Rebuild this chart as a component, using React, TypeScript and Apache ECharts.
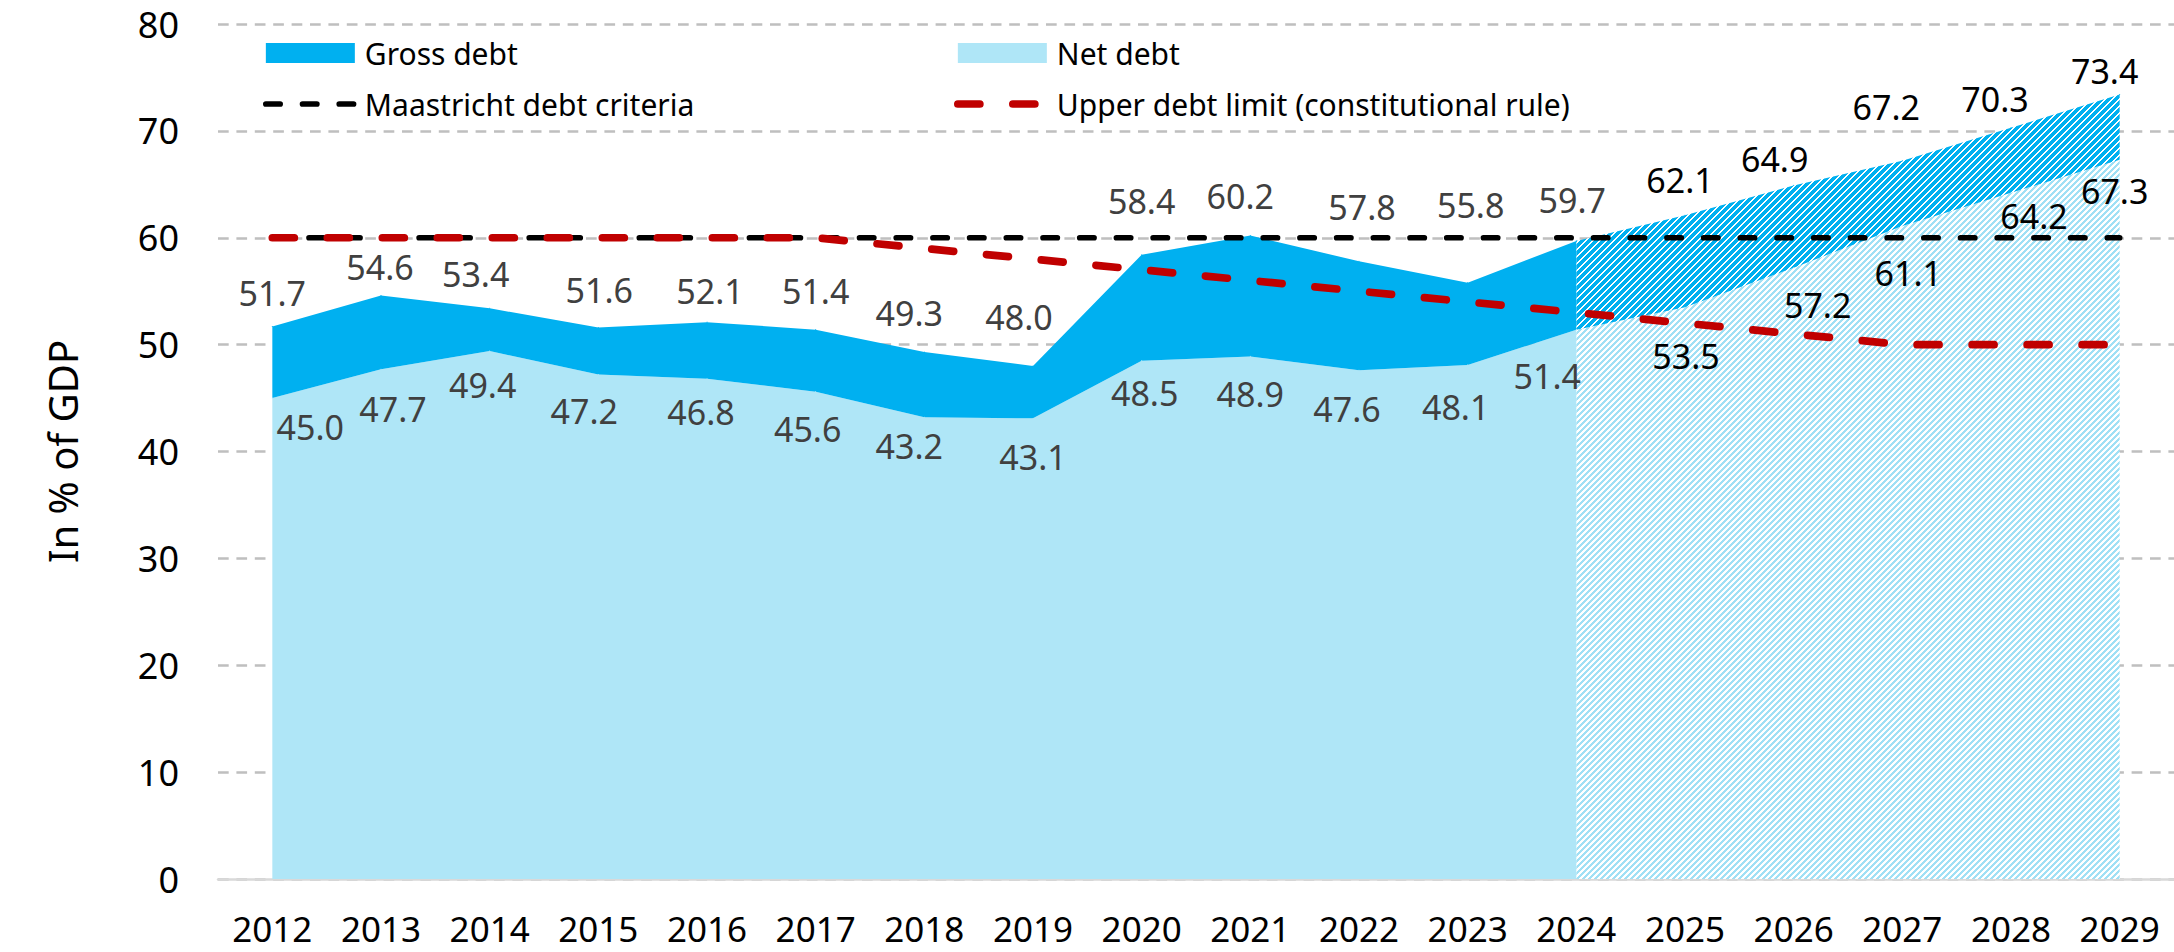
import React, { useEffect, useRef } from 'react';
import * as echarts from 'echarts';

// ---------- data ----------
const years = ['2012', '2013', '2014', '2015', '2016', '2017', '2018', '2019', '2020', '2021', '2022', '2023', '2024', '2025', '2026', '2027', '2028', '2029'];
const grossDebt = [51.7, 54.6, 53.4, 51.6, 52.1, 51.4, 49.3, 48.0, 58.4, 60.2, 57.8, 55.8, 59.7, 62.1, 64.9, 67.2, 70.3, 73.4];
const netDebt = [45.0, 47.7, 49.4, 47.2, 46.8, 45.6, 43.2, 43.1, 48.5, 48.9, 47.6, 48.1, 51.4, 53.5, 57.2, 61.1, 64.2, 67.3];
const maastrichtCriteria = [60, 60, 60, 60, 60, 60, 60, 60, 60, 60, 60, 60, 60, 60, 60, 60, 60, 60];
const upperDebtLimit = [60, 60, 60, 60, 60, 60, 59, 58, 57, 56, 55, 54, 53, 52, 51, 50, 50, 50];
const lastActualYear = '2024';
const yMin = 0;
const yMax = 80;
const yStep = 10;

// ---------- label nudges (style only: [dx, distance of label centre from point]) ----------
const grossLabelNudge = [
  [0, 33], [-1, 28], [-14, 34], [1, 37], [3, 31], [0, 38], [-15, 39], [-14, 49], [0, 53],
  [-10, 39], [3, 54], [3, 77], [-4, 40], [-5, 35], [-19, 26], [-16, 53], [-16, 28], [-15, 23],
];
const netLabelNudge = [
  [38, 28], [12, 39], [-7, 33], [-14, 36], [-6, 33], [-8, 37], [-15, 28], [0, 38], [3, 32],
  [0, 37], [-12, 38], [-12, 42], [-29, 46], [1, 48], [24, 37], [6, 47], [23, 23], [-5, 31],
];

const FONT = "'Noto Sans', sans-serif";
const LABEL_FS = 34;
const LABEL_LH = 34;
const GROSS = '#00B0F0';
const NET = '#AFE6F7';

function makeHatch(rgb: number[], period: number, width: number) {
  const c = document.createElement('canvas');
  c.width = period;
  c.height = period;
  const ctx = c.getContext('2d')!;
  const img = ctx.createImageData(period, period);
  for (let y = 0; y < period; y++) {
    for (let x = 0; x < period; x++) {
      const on = (x + y) % period < width;
      const o = (y * period + x) * 4;
      img.data[o] = on ? rgb[0] : 255;
      img.data[o + 1] = on ? rgb[1] : 255;
      img.data[o + 2] = on ? rgb[2] : 255;
      img.data[o + 3] = 255;
    }
  }
  ctx.putImageData(img, 0, 0);
  return { image: c.toDataURL(), repeat: 'repeat', imageWidth: period, imageHeight: period } as any;
}

export default function App() {
  const ref = useRef<HTMLDivElement>(null);

  useEffect(() => {
    if (!ref.current) return;
    const chart = echarts.init(ref.current, null, { renderer: 'svg' });
    const split = years.indexOf(lastActualYear);

    const topLabel = (i: number, color: string) => ({
      show: true,
      position: 'top',
      color,
      offset: [grossLabelNudge[i][0], -(grossLabelNudge[i][1] - LABEL_LH / 2)],
      formatter: () => grossDebt[i].toFixed(1),
    });
    const bottomLabel = (i: number, color: string) => ({
      show: true,
      position: 'bottom',
      color,
      offset: [netLabelNudge[i][0], netLabelNudge[i][1] - LABEL_LH / 2],
      formatter: () => netDebt[i].toFixed(1),
    });

    const netActual = netDebt.map((v, i) =>
      i <= split ? { value: v, label: bottomLabel(i, '#404040') } : { value: null, label: { show: false } }
    );
    const grossActual = grossDebt.map((v, i) =>
      i <= split ? { value: +(v - netDebt[i]).toFixed(2), label: topLabel(i, '#404040') } : { value: null, label: { show: false } }
    );
    const netForecast = netDebt.map((v, i) =>
      i >= split ? { value: v, label: i > split ? bottomLabel(i, '#000000') : { show: false } } : { value: null, label: { show: false } }
    );
    const grossForecast = grossDebt.map((v, i) =>
      i >= split ? { value: +(v - netDebt[i]).toFixed(2), label: i > split ? topLabel(i, '#000000') : { show: false } } : { value: null, label: { show: false } }
    );

    const areaBase = {
      type: 'line',
      symbol: 'circle',
      symbolSize: 1,
      showSymbol: true,
      silent: true,
      label: {
        show: false,
        fontFamily: FONT,
        fontSize: LABEL_FS,
        lineHeight: LABEL_LH,
        distance: 0,
      },
    };

    const legendText = { fontFamily: FONT, fontSize: 30, lineHeight: 31, color: '#000000', padding: [0, 0, 0, 5] };

    const option: any = {
      animation: false,
      backgroundColor: '#ffffff',
      textStyle: { fontFamily: FONT },
      grid: { left: 218, right: 0, top: 24, bottom: 73, containLabel: false },
      legend: [
        {
          orient: 'vertical',
          left: 263,
          top: 37.5,
          padding: 0,
          itemWidth: 89,
          itemHeight: 20,
          itemGap: 20,
          selectedMode: false,
          textStyle: legendText,
          data: [
            { name: 'Gross debt', icon: 'rect', itemStyle: { color: GROSS, borderWidth: 0 } },
            { name: 'Maastricht debt criteria', itemStyle: { opacity: 0 }, lineStyle: { width: 5.7, cap: 'round' } },
          ],
        },
        {
          orient: 'vertical',
          left: 954,
          top: 37.5,
          padding: 0,
          itemWidth: 89,
          itemHeight: 20,
          itemGap: 20,
          selectedMode: false,
          textStyle: legendText,
          data: [
            { name: 'Net debt', icon: 'rect', itemStyle: { color: NET, borderWidth: 0 } },
            { name: 'Upper debt limit (constitutional rule)', itemStyle: { opacity: 0 }, lineStyle: { width: 7.7, cap: 'round' } },
          ],
        },
      ],
      xAxis: {
        type: 'category',
        data: years,
        boundaryGap: true,
        axisTick: { show: false },
        axisLine: { show: true, lineStyle: { color: '#D9D9D9', width: 2.5 } },
        axisLabel: { fontFamily: FONT, fontSize: 35, color: '#000000', margin: 32, lineHeight: 35 },
        splitLine: { show: false },
      },
      yAxis: {
        type: 'value',
        min: yMin,
        max: yMax,
        interval: yStep,
        name: 'In % of GDP',
        nameLocation: 'middle',
        nameGap: 136,
        nameTextStyle: { fontFamily: FONT, fontSize: 40, color: '#000000', lineHeight: 40 },
        axisLine: { show: false },
        axisTick: { show: false },
        axisLabel: { fontFamily: FONT, fontSize: 36, color: '#000000', margin: 39 },
        splitLine: { show: true, lineStyle: { color: '#BFBFBF', width: 2.5, type: [10.7, 7.7] } },
      },
      series: [
        {
          ...areaBase,
          name: 'Net debt (forecast)',
          stack: 'forecast',
          data: netForecast,
          itemStyle: { color: NET },
          lineStyle: { width: 0, color: NET },
          areaStyle: { color: makeHatch([160, 224, 245], 6, 3), opacity: 1 },
        },
        {
          ...areaBase,
          name: 'Gross debt (forecast)',
          stack: 'forecast',
          data: grossForecast,
          itemStyle: { color: GROSS },
          lineStyle: { width: 0, color: GROSS },
          areaStyle: { color: makeHatch([0, 176, 240], 7, 5), opacity: 1 },
        },
        {
          ...areaBase,
          name: 'Net debt',
          stack: 'actual',
          data: netActual,
          itemStyle: { color: NET },
          lineStyle: { width: 0, color: NET },
          areaStyle: { color: NET, opacity: 1 },
        },
        {
          ...areaBase,
          name: 'Gross debt',
          stack: 'actual',
          data: grossActual,
          itemStyle: { color: GROSS },
          lineStyle: { width: 0, color: GROSS },
          areaStyle: { color: GROSS, opacity: 1 },
        },
        {
          type: 'line',
          name: 'Maastricht debt criteria',
          data: maastrichtCriteria,
          symbol: 'none',
          silent: true,
          lineStyle: { color: '#000000', width: 5.7, type: [14.3, 22.4], cap: 'round' },
          itemStyle: { color: '#000000' },
        },
        {
          type: 'line',
          name: 'Upper debt limit (constitutional rule)',
          data: upperDebtLimit,
          symbol: 'none',
          silent: true,
          lineStyle: { color: '#C00000', width: 7.7, type: [22, 33], cap: 'round' },
          itemStyle: { color: '#C00000' },
        },
      ],
    };

    chart.setOption(option);
    return () => chart.dispose();
  }, []);

  return <div ref={ref} style={{ position: 'absolute', left: 0, top: 0, width: 2174, height: 952 }} />;
}
